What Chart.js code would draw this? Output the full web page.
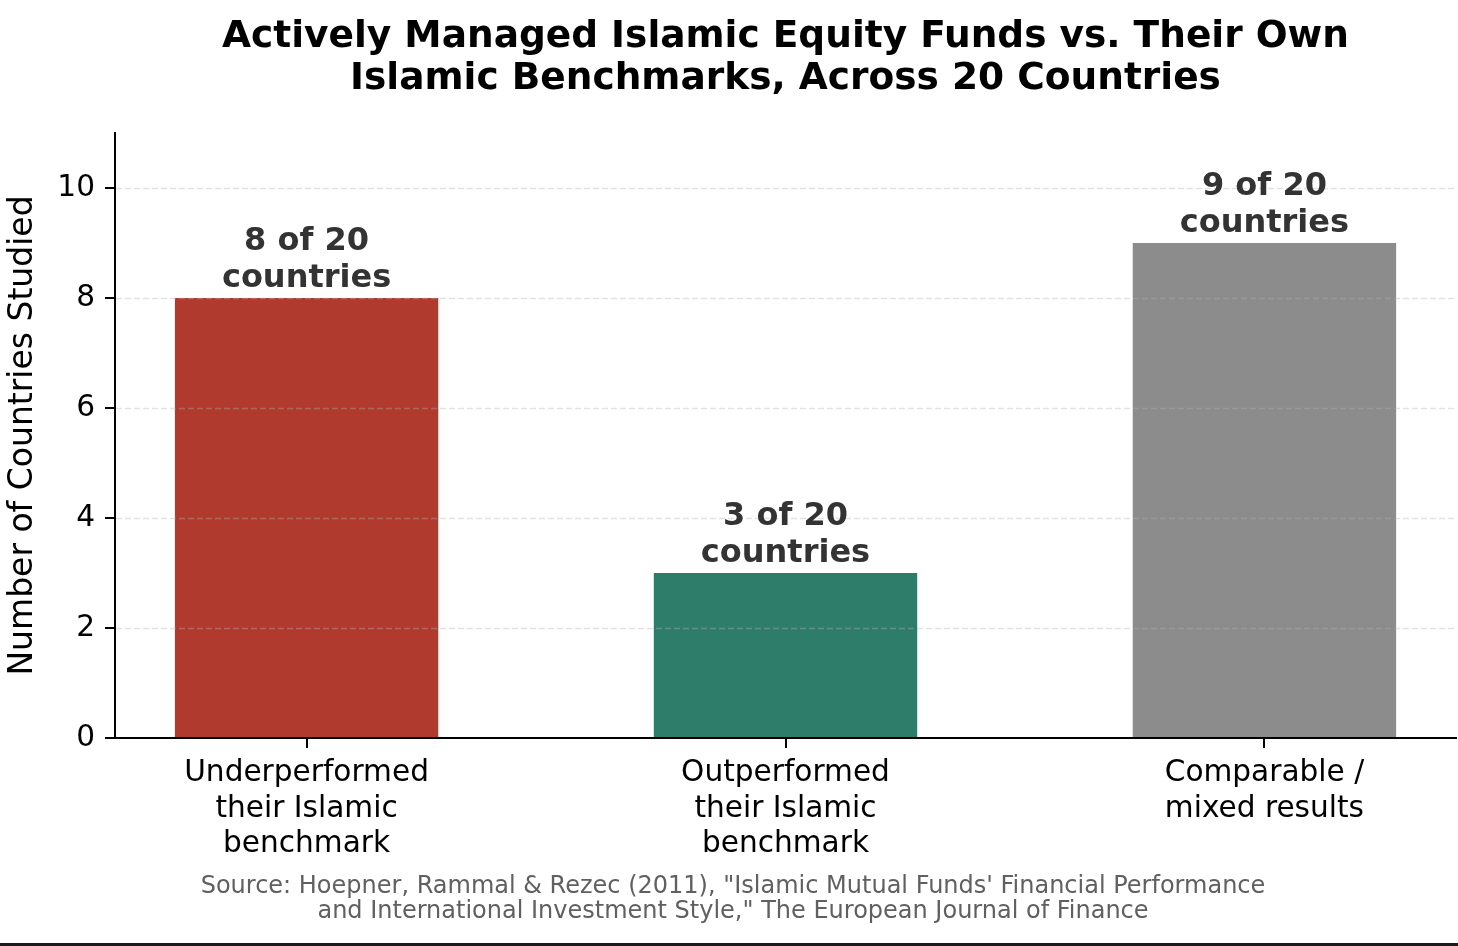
<!DOCTYPE html>
<html><head><meta charset="utf-8">
<script src="https://cdn.jsdelivr.net/npm/chart.js@4.4.1/dist/chart.umd.min.js"></script>
<style>
html,body{margin:0;padding:0;background:#fff;overflow:hidden}
#wrap{position:relative;width:1458px;height:946px}
#edge{position:absolute;left:0;right:0;bottom:0;height:3px;background:#1a1a1a}
</style></head><body>
<div id="wrap"><canvas id="c"></canvas><div id="edge"></div></div>
<script>
const categories = [["Underperformed","their Islamic","benchmark"],["Outperformed","their Islamic","benchmark"],["Comparable /","mixed results"]];
const countryCounts = [8, 3, 9];
const totalCountries = 20;
const barColors = ["#b03a2e", "#2e7d6b", "#8c8c8c"];
const yTicks = [0, 2, 4, 6, 8, 10];
const titleLines = ["Actively Managed Islamic Equity Funds vs. Their Own", "Islamic Benchmarks, Across 20 Countries"];
const sourceLines = ["Source: Hoepner, Rammal & Rezec (2011), \"Islamic Mutual Funds' Financial Performance", "and International Investment Style,\" The European Journal of Finance"];
const yTitle = "Number of Countries Studied";

const FAM = '"DejaVu Sans", sans-serif';

const overlay = {
  id: 'overlay',
  afterDatasetsDraw(chart) {
    const {ctx, chartArea, scales} = chart;
    ctx.save();
    ctx.strokeStyle = 'rgba(176,176,176,0.38)';
    ctx.lineWidth = 1.6;
    ctx.setLineDash([6, 3]);
    yTicks.forEach(v => {
      if (v === 0) return;
      const y = Math.round(scales.y.getPixelForValue(v)) + 0.5;
      ctx.beginPath();
      ctx.moveTo(chartArea.left + 1, y);
      ctx.lineTo(chartArea.right, y);
      ctx.stroke();
    });
    ctx.setLineDash([]);
    const meta = chart.getDatasetMeta(0);
    ctx.fillStyle = '#333333';
    ctx.font = 'bold 32px ' + FAM;
    ctx.textAlign = 'center';
    ctx.textBaseline = 'alphabetic';
    meta.data.forEach((bar, i) => {
      const base = bar.y - 11;
      ctx.fillText(countryCounts[i] + ' of ' + totalCountries, bar.x, base - 37);
      ctx.fillText('countries', bar.x, base);
    });
    ctx.restore();
  },
  afterDraw(chart) {
    const {ctx, chartArea} = chart;
    ctx.save();
    ctx.textAlign = 'center';
    ctx.textBaseline = 'alphabetic';
    ctx.fillStyle = '#000';
    ctx.font = 'bold 37.5px ' + FAM;
    const cx = (chartArea.left + chartArea.right) / 2;
    ctx.fillText(titleLines[0], cx, 47);
    ctx.fillText(titleLines[1], cx, 89);
    ctx.fillStyle = '#606060';
    ctx.font = '24px ' + FAM;
    ctx.fillText(sourceLines[0], 733, 893);
    ctx.fillText(sourceLines[1], 733, 918);
    ctx.restore();
  }
};

new Chart(document.getElementById('c'), {
  type: 'bar',
  data: {
    datasets: [{
      data: countryCounts.map((v, i) => ({x: i, y: v})),
      backgroundColor: barColors,
      borderWidth: 0,
      barPercentage: 0.55,
      categoryPercentage: 1.0
    }]
  },
  options: {
    responsive: true,
    maintainAspectRatio: false,
    animation: false,
    layout: {padding: {top: 133, right: 2, left: 0, bottom: 0}},
    plugins: {legend: {display: false}, tooltip: {enabled: false}, title: {display: false}},
    scales: {
      x: {
        type: 'linear', min: -0.4, max: 2.4, offset: false,
        afterBuildTicks: s => { s.ticks = categories.map((c, i) => ({value: i})); },
        ticks: {autoSkip: false, maxRotation: 0, minRotation: 0, padding: 8, color: '#000',
          font: {family: FAM, size: 29.6, lineHeight: 1.2},
          callback: v => categories[v]},
        grid: {display: true, offset: false, drawOnChartArea: false, drawTicks: true, tickLength: 10, color: '#000', lineWidth: 2},
        border: {display: true, color: '#000', width: 2},
        afterFit: s => { s.height = 208; }
      },
      y: {
        min: 0, max: 11,
        afterBuildTicks: s => { s.ticks = yTicks.map(v => ({value: v})); },
        ticks: {padding: 10, color: '#000', font: {family: FAM, size: 29.6}},
        grid: {display: true, drawOnChartArea: false, drawTicks: true, tickLength: 10, color: '#000', lineWidth: 2},
        border: {display: true, color: '#000', width: 2},
        title: {display: true, text: yTitle, color: '#000', font: {family: FAM, size: 33, lineHeight: 1.2}, padding: {top: 4, bottom: 0}},
        afterFit: s => { s.width = 115; }
      }
    }
  },
  plugins: [overlay]
});
</script>
</body></html>
